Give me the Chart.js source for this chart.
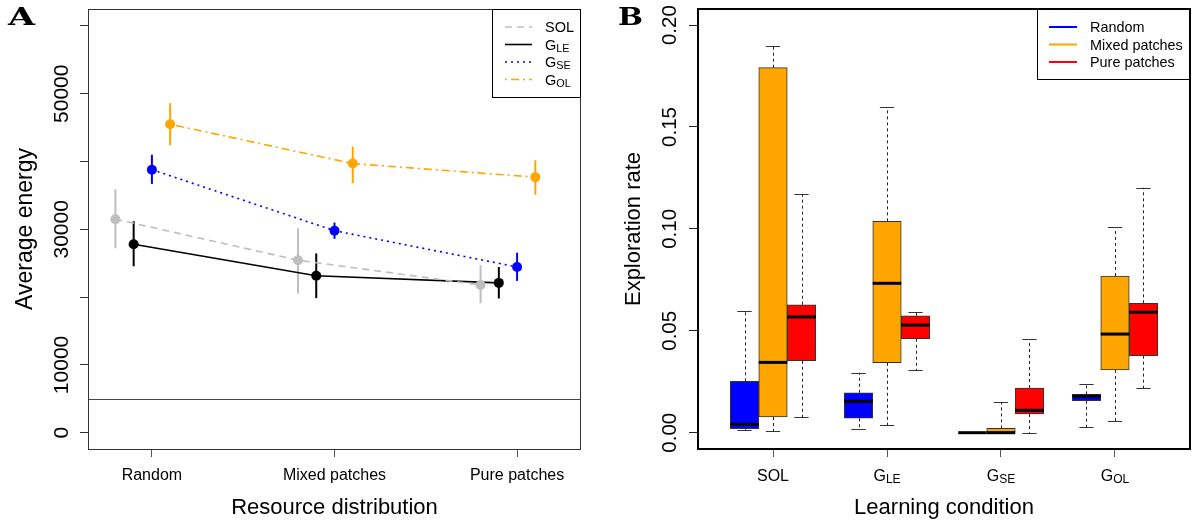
<!DOCTYPE html>
<html><head><meta charset="utf-8">
<script src="https://cdn.jsdelivr.net/npm/chart.js@4.4.1/dist/chart.umd.min.js"></script>
<style>
html,body{margin:0;padding:0;background:#fff;}
#wrap{position:relative;width:1202px;height:524px;overflow:hidden;background:#fff;}
#pa{position:absolute;left:0;top:0;width:600px;height:524px;}
#pb{position:absolute;left:600px;top:0;width:602px;height:524px;}
canvas{display:block;}
</style></head><body>
<div id="wrap"><div id="pa"><canvas id="ca" width="600" height="524"></canvas></div><div id="pb"><canvas id="cb" width="602" height="524"></canvas></div></div>
<script>
// ---------------- DATA ----------------
// Panel A: average energy by resource distribution
const distributions = ['Random', 'Mixed patches', 'Pure patches'];
const learners = ['SOL', 'G_LE', 'G_SE', 'G_OL'];
const solMean = [31500, 25450, 21800];
const solLow  = [27200, 20550, 19100];
const solHigh = [35900, 30150, 24700];
const gleMean = [27800, 23150, 22100];
const gleLow  = [24550, 19850, 19800];
const gleHigh = [31200, 26450, 24450];
const gseMean = [38800, 29800, 24450];
const gseLow  = [36700, 28600, 22400];
const gseHigh = [41000, 31000, 26550];
const golMean = [45500, 39700, 37700];
const golLow  = [42400, 36800, 35100];
const golHigh = [48600, 42200, 40200];
const baselineEnergy = 5000;
const energyTicks = [0, 10000, 20000, 30000, 40000, 50000, 60000];
const energyTickLabels = ['0', '10000', '', '30000', '', '50000', ''];

// Panel B: exploration rate by learning condition (box plot statistics)
const learningConditions = ['SOL', 'G_LE', 'G_SE', 'G_OL'];
const randomWhiskerLow  = [0.0015, 0.0018, 0, 0.0028];
const randomQ1          = [0.0020, 0.0071, 0, 0.0157];
const randomMedian      = [0.0041, 0.0154, 0, 0.0179];
const randomQ3          = [0.0252, 0.0196, 0, 0.0188];
const randomWhiskerHigh = [0.0597, 0.0294, 0, 0.0239];
const mixedWhiskerLow   = [0.0007, 0.0038, 0, 0.0057];
const mixedQ1           = [0.0077, 0.0343, 0, 0.0308];
const mixedMedian       = [0.0345, 0.0733, 0, 0.0484];
const mixedQ3           = [0.1791, 0.1037, 0.0021, 0.0769];
const mixedWhiskerHigh  = [0.1899, 0.1598, 0.0149, 0.1009];
const pureWhiskerLow    = [0.0077, 0.0308, 0, 0.0219];
const pureQ1            = [0.0353, 0.0461, 0.0092, 0.0378];
const pureMedian        = [0.0568, 0.0528, 0.0110, 0.0591];
const pureQ3            = [0.0628, 0.0574, 0.0219, 0.0635];
const pureWhiskerHigh   = [0.1170, 0.0591, 0.0460, 0.1202];
const explorationTicks = [0, 0.05, 0.10, 0.15, 0.20];
const explorationTickLabels = ['0.00', '0.05', '0.10', '0.15', '0.20'];

// ---------------- STYLE ----------------
const FONT = '"Liberation Sans", Arial, Helvetica, sans-serif';
Chart.defaults.font.family = FONT;
Chart.defaults.color = '#000';

const styleA = [
  {color: '#BEBEBE', dash: [7, 5]},
  {color: '#000000', dash: []},
  {color: '#0000FF', dash: [2, 4]},
  {color: '#FFA500', dash: [2, 4, 8, 4]}
];
const dodgeA = [-0.2, -0.1, 0, 0.1];
const meansA = [solMean, gleMean, gseMean, golMean];
const lowsA = [solLow, gleLow, gseLow, golLow];
const highsA = [solHigh, gleHigh, gseHigh, golHigh];

const boxColors = ['#0000FF', '#FFA500', '#FF0000'];
const boxStats = [
  {lo: randomWhiskerLow, q1: randomQ1, med: randomMedian, q3: randomQ3, hi: randomWhiskerHigh},
  {lo: mixedWhiskerLow, q1: mixedQ1, med: mixedMedian, q3: mixedQ3, hi: mixedWhiskerHigh},
  {lo: pureWhiskerLow, q1: pureQ1, med: pureMedian, q3: pureQ3, hi: pureWhiskerHigh}
];

function splitSub(label) {
  const p = label.split('_');
  return {base: p[0], sub: p[1] || ''};
}
function drawSubText(ctx, label, x, y, size, align) {
  const {base, sub} = splitSub(label);
  const subSize = size * 0.75;
  ctx.font = size + 'px ' + FONT;
  const wb = ctx.measureText(base).width;
  ctx.font = subSize + 'px ' + FONT;
  const ws = sub ? ctx.measureText(sub).width : 0;
  const x0 = align === 'center' ? x - (wb + ws) / 2 : x;
  ctx.textAlign = 'left';
  ctx.textBaseline = 'alphabetic';
  ctx.font = size + 'px ' + FONT;
  ctx.fillText(base, x0, y);
  if (sub) {
    ctx.font = subSize + 'px ' + FONT;
    ctx.fillText(sub, x0 + wb, y + size * 0.15);
  }
}
function drawPanelLetter(ctx, letter, x, y, targetW) {
  ctx.save();
  ctx.font = 'bold 24px "DejaVu Serif", "Liberation Serif", serif';
  const w = ctx.measureText(letter).width;
  ctx.translate(x, y);
  ctx.scale(targetW / w, 1);
  ctx.fillStyle = '#000';
  ctx.textAlign = 'left';
  ctx.textBaseline = 'alphabetic';
  ctx.fillText(letter, 0, 0);
  ctx.restore();
}
function drawYLabels(ctx, scale, ticks, labels, baseX, size) {
  ctx.save();
  ctx.fillStyle = '#000';
  ctx.font = size + 'px ' + FONT;
  ctx.textAlign = 'center';
  ctx.textBaseline = 'alphabetic';
  ticks.forEach((v, i) => {
    if (!labels[i]) return;
    const py = scale.getPixelForValue(v);
    ctx.save();
    ctx.translate(baseX, py);
    ctx.rotate(-Math.PI / 2);
    ctx.fillText(labels[i], 0, 0);
    ctx.restore();
  });
  ctx.restore();
}

// ---------------- PANEL A ----------------
const panelAPlugin = {
  id: 'panelA',
  beforeDatasetsDraw(chart) {
    const {ctx, chartArea: ca, scales: {y}} = chart;
    ctx.save();
    const yb = Math.round(y.getPixelForValue(baselineEnergy)) + 0.5;
    ctx.strokeStyle = '#444';
    ctx.lineWidth = 1;
    ctx.beginPath(); ctx.moveTo(ca.left, yb); ctx.lineTo(ca.right, yb); ctx.stroke();
    chart.data.datasets.forEach((ds, k) => {
      const meta = chart.getDatasetMeta(k);
      meta.data.forEach((pt, i) => {
        const lo = y.getPixelForValue(lowsA[k][i]);
        const hi = y.getPixelForValue(highsA[k][i]);
        ctx.strokeStyle = styleA[k].color;
        ctx.lineWidth = 2;
        ctx.setLineDash([]);
        ctx.beginPath(); ctx.moveTo(pt.x, lo); ctx.lineTo(pt.x, hi); ctx.stroke();
      });
    });
    ctx.restore();
  },
  afterDraw(chart) {
    const {ctx, chartArea: ca, scales: {y}} = chart;
    ctx.save();
    ctx.strokeStyle = '#333';
    ctx.lineWidth = 1;
    ctx.setLineDash([]);
    ctx.strokeRect(ca.left + 0.5, ca.top + 0.5, ca.right - ca.left - 1, ca.bottom - ca.top);
    // legend
    const lx0 = 492, ly0 = ca.top, lx1 = ca.right, ly1 = 97;
    ctx.fillStyle = '#fff';
    ctx.fillRect(lx0, ly0, lx1 - lx0, ly1 - ly0);
    ctx.strokeStyle = '#000';
    ctx.strokeRect(lx0 + 0.5, ly0 + 0.5, lx1 - lx0 - 1, ly1 - ly0);
    learners.forEach((name, k) => {
      const ry = 27 + k * 17.5;
      ctx.strokeStyle = styleA[k].color;
      ctx.lineWidth = 1.6;
      ctx.setLineDash(styleA[k].dash);
      ctx.beginPath(); ctx.moveTo(505, ry); ctx.lineTo(532, ry); ctx.stroke();
      ctx.setLineDash([]);
      ctx.fillStyle = '#000';
      drawSubText(ctx, name, 545, ry + 5.3, 14.5, 'left');
    });
    ctx.restore();
    drawYLabels(ctx, y, energyTicks, energyTickLabels, 68, 21);
    drawPanelLetter(ctx, 'A', 8, 25, 27);
  }
};

new Chart(document.getElementById('ca'), {
  type: 'scatter',
  data: {
    datasets: learners.map((name, k) => ({
      label: name,
      data: meansA[k].map((v, i) => ({x: i + 1 + dodgeA[k], y: v})),
      showLine: true,
      borderColor: styleA[k].color,
      backgroundColor: styleA[k].color,
      borderDash: styleA[k].dash,
      borderWidth: 1.6,
      pointRadius: 5,
      pointHoverRadius: 5,
      pointBorderWidth: 0,
      pointBackgroundColor: styleA[k].color
    }))
  },
  options: {
    responsive: false,
    animation: false,
    events: [],
    layout: {padding: {left: 0, top: 9, right: 19, bottom: 0}},
    plugins: {legend: {display: false}, tooltip: {enabled: false}},
    scales: {
      x: {
        type: 'linear', min: 0.65, max: 3.35, offset: false,
        afterBuildTicks: s => { s.ticks = distributions.map((d, i) => ({value: i + 1})); },
        afterFit: s => { s.height = 75; },
        ticks: {callback: v => distributions[Math.round(v) - 1] || '', font: {size: 16}, color: '#000', padding: 9, autoSkip: false, maxRotation: 0, minRotation: 0},
        grid: {drawOnChartArea: false, drawTicks: true, tickLength: 8, color: '#555', lineWidth: 1, offset: false},
        border: {display: false},
        title: {display: true, text: 'Resource distribution', font: {size: 22}, color: '#000', padding: {top: 0, bottom: 2.4}}
      },
      y: {
        type: 'linear', min: -2400, max: 62500,
        afterBuildTicks: s => { s.ticks = energyTicks.map(v => ({value: v})); },
        afterFit: s => { s.width = 88; },
        ticks: {callback: () => '', padding: 0},
        grid: {drawOnChartArea: false, drawTicks: true, tickLength: 8, color: '#333', lineWidth: 1},
        border: {display: false},
        title: {display: true, text: 'Average energy', font: {size: 23}, color: '#000', padding: {top: 11.6, bottom: 0}}
      }
    }
  },
  plugins: [panelAPlugin]
});

// ---------------- PANEL B ----------------
const panelBPlugin = {
  id: 'panelB',
  beforeDatasetsDraw(chart) {
    const {ctx, scales: {y}} = chart;
    ctx.save();
    chart.data.datasets.forEach((ds, k) => {
      const meta = chart.getDatasetMeta(k);
      const st = boxStats[k];
      meta.data.forEach((bar, i) => {
        const {x, width} = bar.getProps(['x', 'width'], true);
        const pairs = [[st.q3[i], st.hi[i]], [st.q1[i], st.lo[i]]];
        pairs.forEach(([from, to]) => {
          const pf = y.getPixelForValue(from), pt = y.getPixelForValue(to);
          ctx.strokeStyle = '#222';
          ctx.lineWidth = 1;
          if (Math.abs(pt - pf) > 0.5) {
            ctx.setLineDash([3, 3]);
            ctx.beginPath(); ctx.moveTo(Math.round(x) + 0.5, pf); ctx.lineTo(Math.round(x) + 0.5, pt); ctx.stroke();
          }
          ctx.setLineDash([]);
          ctx.strokeStyle = '#333';
          ctx.beginPath(); ctx.moveTo(x - width / 4, Math.round(pt) + 0.5); ctx.lineTo(x + width / 4, Math.round(pt) + 0.5); ctx.stroke();
        });
      });
    });
    ctx.restore();
  },
  afterDatasetsDraw(chart) {
    const {ctx, scales: {y}} = chart;
    ctx.save();
    chart.data.datasets.forEach((ds, k) => {
      const meta = chart.getDatasetMeta(k);
      const st = boxStats[k];
      meta.data.forEach((bar, i) => {
        const {x, width} = bar.getProps(['x', 'width'], true);
        const pm = y.getPixelForValue(st.med[i]);
        ctx.strokeStyle = '#000';
        ctx.lineWidth = 3;
        ctx.lineCap = 'butt';
        ctx.beginPath(); ctx.moveTo(x - width / 2, pm); ctx.lineTo(x + width / 2, pm); ctx.stroke();
      });
    });
    ctx.restore();
  },
  afterDraw(chart) {
    const {ctx, chartArea: ca, scales: {x, y}} = chart;
    ctx.save();
    ctx.strokeStyle = '#000';
    ctx.lineWidth = 2;
    ctx.setLineDash([]);
    ctx.strokeRect(ca.left, ca.top, ca.right - ca.left, ca.bottom - ca.top);
    // legend
    const lx0 = 437, ly0 = ca.top, lx1 = ca.right, ly1 = 79;
    ctx.fillStyle = '#fff';
    ctx.fillRect(lx0, ly0, lx1 - lx0, ly1 - ly0);
    ctx.strokeStyle = '#000';
    ctx.lineWidth = 1;
    ctx.strokeRect(lx0 + 0.5, ly0 + 0.5, lx1 - lx0 - 1, ly1 - ly0);
    ctx.lineWidth = 2;
    ctx.strokeRect(ca.left, ca.top, ca.right - ca.left, ca.bottom - ca.top);
    distributions.forEach((name, k) => {
      const ry = 27 + k * 17.5;
      ctx.strokeStyle = boxColors[k];
      ctx.lineWidth = 2;
      ctx.beginPath(); ctx.moveTo(449, ry); ctx.lineTo(477, ry); ctx.stroke();
      ctx.fillStyle = '#000';
      drawSubText(ctx, name, 490, ry + 5.2, 14.4, 'left');
    });
    // x tick labels with subscripts
    ctx.fillStyle = '#000';
    learningConditions.forEach((c, i) => {
      drawSubText(ctx, c, x.getPixelForValue(i + 1), 480.5, 16, 'center');
    });
    ctx.restore();
    drawYLabels(ctx, y, explorationTicks, explorationTickLabels, 76, 20.5);
    drawPanelLetter(ctx, 'B', 18, 25, 25);
  }
};

new Chart(document.getElementById('cb'), {
  type: 'bar',
  data: {
    datasets: distributions.map((name, k) => ({
      label: name,
      data: learningConditions.map((c, i) => ({x: i + 1, y: [boxStats[k].q1[i], boxStats[k].q3[i]]})),
      backgroundColor: boxColors[k],
      borderColor: '#333',
      borderWidth: 1,
      borderSkipped: false,
      barThickness: 28.5
    }))
  },
  options: {
    responsive: false,
    animation: false,
    events: [],
    layout: {padding: {left: 0, top: 9, right: 12, bottom: 0}},
    plugins: {legend: {display: false}, tooltip: {enabled: false}},
    scales: {
      x: {
        type: 'linear', min: 0.342, max: 4.658, offset: false,
        afterBuildTicks: s => { s.ticks = learningConditions.map((c, i) => ({value: i + 1})); },
        afterFit: s => { s.height = 75; },
        ticks: {callback: () => '', padding: 0, autoSkip: false, maxRotation: 0, minRotation: 0},
        grid: {drawOnChartArea: false, drawTicks: true, tickLength: 8, color: '#555', lineWidth: 1, offset: false},
        border: {display: false},
        title: {display: true, text: 'Learning condition', font: {size: 22}, color: '#000', padding: {top: 0, bottom: 2.4}}
      },
      y: {
        type: 'linear', min: -0.008, max: 0.2079,
        afterBuildTicks: s => { s.ticks = explorationTicks.map(v => ({value: v})); },
        afterFit: s => { s.width = 98; },
        ticks: {callback: () => '', padding: 0},
        grid: {drawOnChartArea: false, drawTicks: true, tickLength: 9, color: '#222', lineWidth: 1},
        border: {display: false},
        title: {display: true, text: 'Exploration rate', font: {size: 22}, color: '#000', padding: {top: 20.9, bottom: 0}}
      }
    }
  },
  plugins: [panelBPlugin]
});
</script>
</body></html>
